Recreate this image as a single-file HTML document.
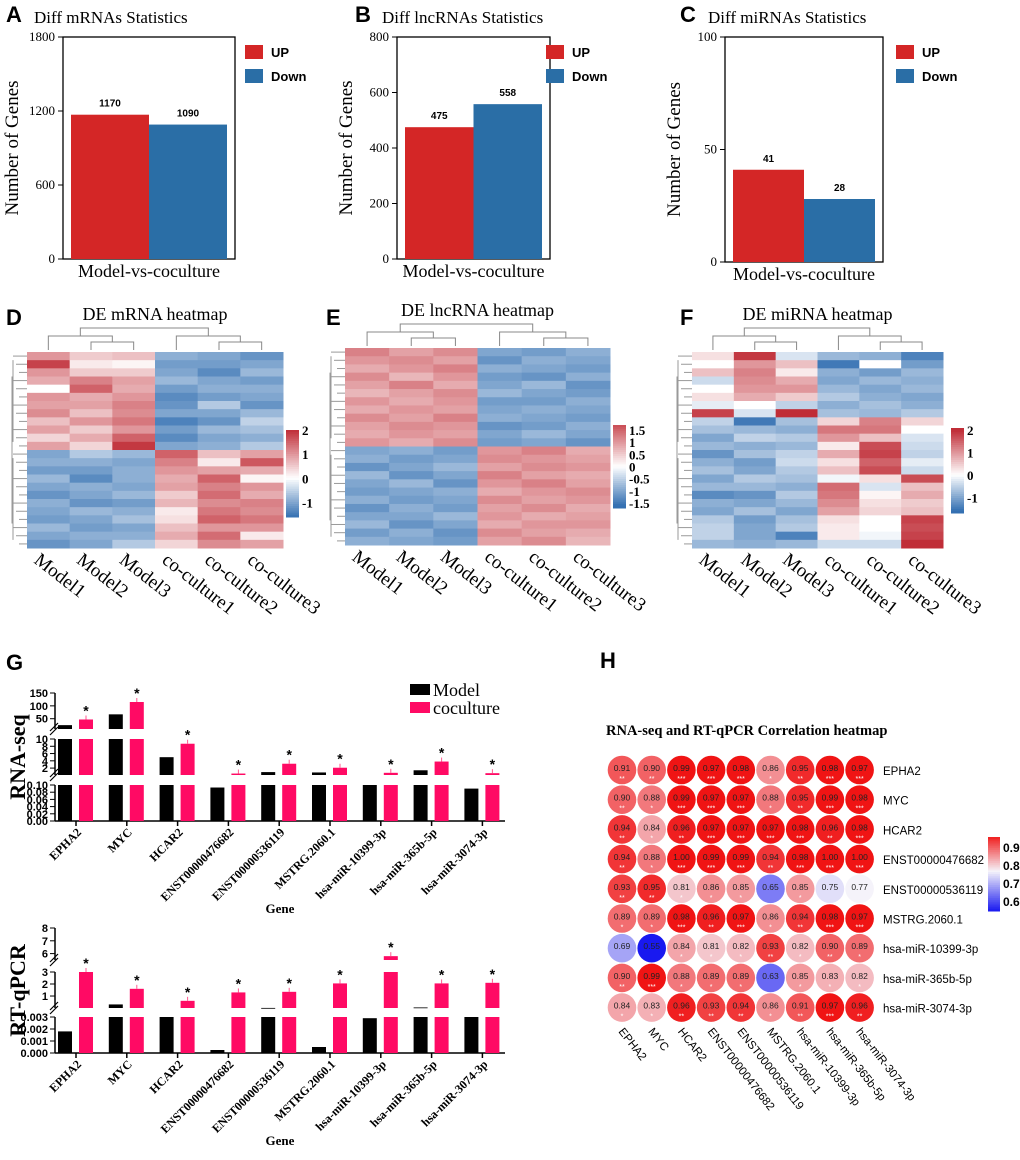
<!DOCTYPE html>
<html><head><meta charset="utf-8"><style>
body{margin:0;background:#fff}
svg{display:block}
.serif{font-family:"Liberation Serif",serif}
.sans{font-family:"Liberation Sans",sans-serif}
</style></head><body>
<svg id="fig" width="1020" height="1160" viewBox="0 0 1020 1160" xmlns="http://www.w3.org/2000/svg"></svg>
<script>
// ---------- data ----------
const barCats = ["UP","Down"];
const mrnaVals = [1170,1090];
const lncVals = [475,558];
const mirVals = [41,28];
const mrnaTicks = [0,600,1200,1800];
const lncTicks = [0,200,400,600,800];
const mirTicks = [0,50,100];

const heatCols = ["Model1","Model2","Model3","co-culture1","co-culture2","co-culture3"];
const heatD = [
 [1.0,1.8,1.0,0.8,0.0,1.0,0.9,1.1,0.6,0.9,0.4,0.9,-1.0,-0.9,-1.1,-0.8,-1.0,-1.2,-0.9,-1.0,-1.1,-0.8,-1.0,-1.2],
 [0.5,0.2,0.5,1.2,1.5,0.8,0.9,0.6,1.0,0.5,0.8,0.4,-0.6,-0.9,-1.1,-1.3,-0.9,-1.0,-1.2,-0.8,-1.0,-1.1,-0.9,-1.0],
 [0.6,0.1,0.5,0.9,0.8,1.0,1.2,1.1,1.3,1.0,1.5,1.9,-0.8,-1.0,-0.9,-0.9,-1.0,-0.8,-1.1,-0.9,-0.7,-1.0,-0.9,-0.6],
 [-0.9,-1.1,-1.0,-0.8,-1.1,-1.3,-1.2,-1.0,-1.4,-1.1,-1.3,-1.0,1.5,1.2,1.0,0.8,0.9,0.5,0.7,0.2,0.3,0.6,0.8,0.4],
 [-1.0,-1.1,-1.3,-1.0,-0.9,-1.1,-0.6,-1.0,-1.2,-0.8,-1.0,-0.9,0.6,0.2,0.9,1.5,1.2,1.4,1.1,1.3,1.5,1.0,1.4,1.1],
 [-1.2,-1.0,-0.8,-1.1,-0.9,-1.0,-1.2,-0.8,-0.5,-0.7,-0.9,-0.6,0.9,1.6,0.8,0.1,1.0,0.8,1.2,1.1,1.3,1.0,0.2,0.9]
];
const heatE = [
 [1.2,1.0,0.8,1.1,0.9,0.7,1.0,0.8,1.1,0.9,0.8,1.0,-1.0,-0.9,-1.2,-0.8,-1.0,-1.1,-0.9,-1.2,-1.0,-0.8,-1.1,-0.9],
 [0.9,1.1,1.0,0.7,1.2,0.9,0.8,1.0,0.9,1.1,1.0,0.8,-0.9,-1.1,-1.0,-1.2,-0.8,-1.0,-1.1,-0.9,-1.0,-1.2,-0.9,-1.0],
 [1.1,0.9,1.2,1.0,0.8,1.1,1.0,0.9,1.2,1.0,0.9,1.1,-1.1,-1.0,-0.8,-1.0,-1.2,-0.9,-1.0,-1.1,-0.8,-1.0,-1.2,-1.1],
 [-1.0,-1.2,-0.9,-1.1,-1.0,-0.8,-1.1,-1.0,-0.9,-1.2,-1.0,-1.1,1.0,1.1,0.9,1.2,1.0,0.8,1.1,0.9,1.0,0.8,1.1,0.9],
 [-1.1,-0.9,-1.0,-1.2,-0.8,-1.0,-1.1,-0.9,-1.0,-1.1,-0.8,-1.0,1.2,1.0,1.1,0.9,1.2,1.0,0.9,1.1,0.8,1.0,0.9,1.1],
 [-0.9,-1.0,-1.1,-0.9,-1.2,-1.1,-0.9,-1.0,-1.1,-0.9,-1.0,-1.2,0.8,0.9,1.0,0.8,0.9,1.1,1.0,0.8,0.9,1.0,0.8,0.7]
];
const heatF = [
 [0.3,0.0,0.6,-0.4,0.0,0.3,-0.2,1.8,-0.5,-0.7,-1.0,-0.8,-1.2,-0.9,-0.7,-1.0,-0.8,-1.3,-0.9,-1.0,-0.6,-0.5,-0.5,-0.8],
 [1.9,1.0,1.2,1.1,1.0,0.8,0.0,-0.3,-1.5,-0.8,-0.5,-0.9,-0.7,-1.1,-1.0,-0.6,-0.8,-1.2,-1.0,-0.7,-1.1,-1.0,-1.0,-0.9],
 [-0.3,0.6,0.2,0.8,1.0,0.5,-0.5,2.0,-0.7,-0.9,-0.6,-0.8,-0.5,-0.4,-0.6,-0.7,-0.9,-0.6,-0.8,-1.0,-0.7,-0.6,-1.4,-0.8],
 [-0.8,-1.5,-0.9,-1.0,-0.8,-0.6,-0.9,-0.7,0.4,1.3,1.0,0.2,0.8,0.3,0.6,-0.1,1.4,1.3,1.1,0.9,0.3,0.2,0.2,-0.4],
 [-0.9,0.0,-1.1,-0.8,-1.0,-0.9,-0.7,-0.8,1.2,1.3,0.6,1.7,1.8,1.5,1.7,0.3,-0.3,0.1,0.3,0.4,0.0,0.0,-0.1,-0.4],
 [-1.4,-1.1,-0.8,-0.9,-0.8,-1.0,-0.9,-0.6,0.4,0.0,-0.3,-0.4,-0.5,-0.2,-0.4,1.7,0.6,0.8,0.5,0.6,1.8,1.7,1.8,2.0]
];

const genes = ["EPHA2","MYC","HCAR2","ENST00000476682","ENST00000536119","MSTRG.2060.1","hsa-miR-10399-3p","hsa-miR-365b-5p","hsa-miR-3074-3p"];
const seqModel = [25,67,5,0.093,0.9,0.8,0.1,1.4,0.09];
const seqCo = [47,115,8.7,0.5,3.2,2.1,0.7,3.8,0.6];
const seqTickTop = [50,100,150];
const seqTickMid = [2,4,6,8,10];
const seqTickLow = ["0.00","0.02","0.04","0.06","0.08","0.10"];
const pcrModel = [0.0018,0.3,0.003,0.00025,0.01,0.0005,0.0029,0.05,0.003];
const pcrCo = [3,1.6,0.6,1.3,1.35,2.05,5.8,2.05,2.1];
const pcrTickTop = [6,7,8];
const pcrTickMid = [1,2,3];
const pcrTickLow = ["0.000","0.001","0.002","0.003"];

const corRows = genes;
const corCols = genes;
const corVals = [
 [.91,.90,.99,.97,.98,.86,.95,.98,.97],
 [.90,.88,.99,.97,.97,.88,.95,.99,.98],
 [.94,.84,.96,.97,.97,.97,.98,.96,.98],
 [.94,.88,1.00,.99,.99,.94,.98,1.00,1.00],
 [.93,.95,.81,.86,.85,.65,.85,.75,.77],
 [.89,.89,.98,.96,.97,.86,.94,.98,.97],
 [.69,.55,.84,.81,.82,.93,.82,.90,.89],
 [.90,.99,.88,.89,.89,.63,.85,.83,.82],
 [.84,.83,.96,.93,.94,.86,.91,.97,.96]
];
const corTicks = [0.6,0.7,0.8,0.9];

// ---------- helpers ----------
const NS="http://www.w3.org/2000/svg";
const svg=document.getElementById('fig');
function mk(tag,attrs,parent,txt){const e=document.createElementNS(NS,tag);for(const k in attrs)e.setAttribute(k,attrs[k]);if(txt!==undefined)e.textContent=txt;(parent||svg).appendChild(e);return e;}
function grp(name){const g=mk('g',{});return g;}
function lerp(a,b,t){return Math.round(a+(b-a)*t);}
function mix(c1,c2,t){return `rgb(${lerp(c1[0],c2[0],t)},${lerp(c1[1],c2[1],t)},${lerp(c1[2],c2[2],t)})`;}
function heatColor(v){const W=[255,255,255];if(v>=0)return mix(W,[192,45,55],Math.min(v/2,1));return mix(W,[52,112,178],Math.min(-v/1.6,1));}
function corColor(v){const W=[245,243,250];if(v>=0.77)return mix(W,[240,20,20],Math.min((v-0.77)/0.2,1));return mix(W,[25,25,240],Math.min((0.77-v)/0.22,1));}

// ---------- panel letters ----------
[["A",6,22],["B",355,22],["C",680,22],["D",6,325],["E",326,325],["F",680,325],["G",6,670],["H",600,668]].forEach(([l,x,y])=>{
 const t=mk('text',{x,y,'font-size':22,'font-weight':'bold',class:'sans'},svg,l);
 
});

// ---------- bar panels ----------
function barPanel(name,title,vals,ticks,box,legX,titleX){
 const g=grp(name);
 const [x0,y0,x1,y1]=box;const max=ticks[ticks.length-1];
 const ys=v=>y1-(v/max)*(y1-y0);
 const tt=mk('text',{x:titleX,y:y0-14,'font-size':17,class:'serif'},g,title);
 
 mk('rect',{x:x0,y:y0,width:x1-x0,height:y1-y0,fill:'none',stroke:'#000','stroke-width':1.3},g);
 ticks.forEach(t=>{const y=ys(t);mk('line',{x1:x0-5,x2:x0,y1:y,y2:y,stroke:'#000'},g);
  const lb=mk('text',{x:x0-8,y:y+4,'text-anchor':'end','font-size':13,class:'serif'},g,t);
  });
 const bw=(x1-x0-16)/2;const cols=['#d42626','#2a6ea6'];
 vals.forEach((v,i)=>{const bx=x0+8+i*bw;const r=mk('rect',{x:bx,y:ys(v),width:bw,height:y1-ys(v),fill:cols[i]},g);
  
  const lb=mk('text',{x:bx+bw/2,y:ys(v)-8,'text-anchor':'middle','font-size':10,'font-weight':'bold',class:'sans'},g,v);
  });
 const yl=mk('text',{transform:`translate(${x0-45},${(y0+y1)/2}) rotate(-90)`,'text-anchor':'middle','font-size':19,class:'serif'},g,'Number of Genes');
 
 const xl=mk('text',{x:(x0+x1)/2,y:y1+18,'text-anchor':'middle','font-size':18,class:'serif'},g,'Model-vs-coculture');
 
 barCats.forEach((c,i)=>{const lg=mk('g',{},g);
  mk('rect',{x:legX,y:y0+8+i*24,width:18,height:14,fill:cols[i]},lg);
  mk('text',{x:legX+26,y:y0+20+i*24,'font-size':13,'font-weight':'bold',class:'sans'},lg,c);});
}
barPanel('chart-a-mrna','Diff mRNAs Statistics',mrnaVals,mrnaTicks,[63,37,235,259],245,34);
barPanel('chart-b-lncrna','Diff lncRNAs Statistics',lncVals,lncTicks,[397,37,550,259],546,382);
barPanel('chart-c-mirna','Diff miRNAs Statistics',mirVals,mirTicks,[725,37,883,262],896,708);

// ---------- heatmaps ----------
function heatPanel(name,title,data,box,cbar,cbTicks,cbRange){
 const g=grp(name);const [x0,y0,x1,y1]=box;
 const cw=(x1-x0)/data.length;const n=data[0].length;const rh=(y1-y0)/n;
 const tt=mk('text',{x:(x0+x1)/2,y:y0-32,'text-anchor':'middle','font-size':18,class:'serif'},g,title);
 
 data.forEach((col,c)=>col.forEach((v,r)=>{const cell=mk('rect',{x:x0+c*cw,y:y0+r*rh,width:cw+0.5,height:rh+0.5,fill:heatColor(v)},g);
  }));
 const cx=i=>x0+cw*(i+0.5);const d=mk('g',{stroke:'#888',fill:'none','stroke-width':1},g);
 
 const b=y0-2;
 mk('path',{d:`M${cx(1)} ${b}V${b-8}H${cx(2)}V${b}M${cx(0)} ${b}V${b-14}H${(cx(1)+cx(2))/2}V${b-8}M${cx(4)} ${b}V${b-8}H${cx(5)}V${b}M${cx(3)} ${b}V${b-14}H${(cx(4)+cx(5))/2}V${b-8}M${(cx(0)+cx(1.5))/2} ${b-14}V${b-22}H${(cx(3)+cx(4.5))/2}V${b-14}`},d);
 const rd=mk('g',{stroke:'#999',fill:'none','stroke-width':1},g);
 
 for(let r=0;r<n;r++){const y=y0+(r+0.5)*rh;mk('line',{x1:x0-14+(r%3)*3,x2:x0,y1:y,y2:y},rd);}
 mk('path',{d:`M${x0-14} ${y0+rh}V${(y0+y1)/2-rh}M${x0-14} ${(y0+y1)/2+rh}V${y1-rh}M${x0-15} ${y0+rh*3}V${y1-rh*3}`},rd);
 heatCols.forEach((c,i)=>{const t=mk('text',{transform:`translate(${x0+cw*i+6},${y1+14}) rotate(38)`,'font-size':19,class:'serif'},g,c);
  });
 const [bx,by0,by1]=cbar;const steps=40;const [lo,hi]=cbRange;
 for(let s=0;s<steps;s++){const v=hi-(hi-lo)*(s+0.5)/steps;mk('rect',{x:bx,y:by0+(by1-by0)*s/steps,width:13,height:(by1-by0)/steps+0.5,fill:heatColor(v)},g);}
 cbTicks.forEach(t=>{const y=by1-(t-lo)/(hi-lo)*(by1-by0);const lb=mk('text',{x:bx+16,y:y+5,'font-size':13,'font-weight':'bold',class:'serif'},g,t);
  });
}
heatPanel('heatmap-d-mrna','DE mRNA heatmap',heatD,[27,352,283,548],[286,430,517],[2,1,0,-1],[-1.6,2]);
heatPanel('heatmap-e-lncrna','DE lncRNA heatmap',heatE,[345,348,610,545],[613,425,508],[1.5,1,0.5,0,-0.5,-1,-1.5],[-1.7,1.7]);
heatPanel('heatmap-f-mirna','DE miRNA heatmap',heatF,[692,352,943,548],[951,428,513],[2,1,0,-1],[-1.7,2.1]);

// ---------- broken-axis bar charts ----------
const gx=i=>76+i*50.8;
function brokenBars(name,ylabel,model,co,segs,tickSets,axY,legend){
 const g=grp(name);
 segs.forEach((s,si)=>{
  mk('line',{x1:55,x2:55,y1:s.y1,y2:s.y0,stroke:'#000','stroke-width':1.5},g);
  tickSets[si].forEach(t=>{const v=parseFloat(t);const y=s.y0-(v-s.lo)/(s.hi-s.lo)*(s.y0-s.y1);
   mk('line',{x1:50,x2:55,y1:y,y2:y,stroke:'#000'},g);
   const lb=mk('text',{x:48,y:y+4,'text-anchor':'end','font-size':11,'font-weight':'bold',class:'sans'},g,t);
   });
  if(si>0){mk('path',{d:`M50 ${s.y0+6}L58 ${s.y0-2}M50 ${s.y0+2}L58 ${s.y0-6}`,stroke:'#000','stroke-width':1.2},g);}
 });
 mk('line',{x1:55,x2:505,y1:axY,y2:axY,stroke:'#000','stroke-width':1.5},g);
 function drawBar(v,x,w,fill,nm){
  segs.forEach(s=>{if(v<=s.lo&&s.lo>0)return;const top=Math.min(v,s.hi);const yT=s.y0-(top-s.lo)/(s.hi-s.lo)*(s.y0-s.y1);
   const r=mk('rect',{x,y:yT,width:w,height:Math.max(s.y0-yT,0.8),fill},g);});
 }
 function topY(v){for(let i=segs.length-1;i>=0;i--){const s=segs[i];if(v>s.lo||i===0){const t=Math.min(v,s.hi);return s.y0-(t-s.lo)/(s.hi-s.lo)*(s.y0-s.y1);}}}
 genes.forEach((gn,i)=>{const c=gx(i);
  drawBar(model[i],c-18,14,'#000','bar-model');
  drawBar(co[i],c+3,14,'#ff0a64','bar-coculture');
  const yt=topY(co[i]);
  mk('line',{x1:c+10,x2:c+10,y1:yt,y2:yt-4,stroke:'#ff5a90'},g);
  const st=mk('text',{x:c+10,y:yt-4,'text-anchor':'middle','font-size':14,'font-weight':'bold',class:'sans'},g,'*');
  
  mk('line',{x1:c,x2:c,y1:axY,y2:axY+5,stroke:'#000','stroke-width':1.5},g);
  const lb=mk('text',{transform:`translate(${c+6},${axY+12}) rotate(-45)`,'text-anchor':'end','font-size':12,'font-weight':'bold',class:'serif'},g,gn);
  
 });
 const yl=mk('text',{transform:`translate(25,${(segs[0].y0+segs[segs.length-1].y1)/2}) rotate(-90)`,'text-anchor':'middle','font-size':22,'font-weight':'bold',class:'serif'},g,ylabel);
 
 const xl=mk('text',{x:280,y:axY+92,'text-anchor':'middle','font-size':13,'font-weight':'bold',class:'serif'},g,'Gene');
 
 if(legend){[['Model','#000'],['coculture','#ff0a64']].forEach(([t,c],i)=>{const lg=mk('g',{},g);
  mk('rect',{x:410,y:684+i*18,width:20,height:11,fill:c},lg);
  mk('text',{x:433,y:696+i*18,'font-size':18,class:'serif'},lg,t);});}
}
brokenBars('chart-g-rnaseq','RNA-seq',seqModel,seqCo,
 [{lo:0,hi:0.1,y0:821,y1:785},{lo:0.1,hi:10,y0:775,y1:739},{lo:10,hi:150,y0:729,y1:693}],
 [seqTickLow,seqTickMid,seqTickTop],821,true);
brokenBars('chart-g-rtqpcr','RT-qPCR',pcrModel,pcrCo,
 [{lo:0,hi:0.003,y0:1053,y1:1017},{lo:0.003,hi:3,y0:1008,y1:972},{lo:5.5,hi:8,y0:960,y1:928}],
 [pcrTickLow,pcrTickMid,pcrTickTop],1053,false);

// ---------- correlation heatmap ----------
(function(){
 const g=grp('chart-h-correlation');
 const t=mk('text',{x:606,y:735,'font-size':14.5,'font-weight':'bold',class:'serif'},g,'RNA-seq and RT-qPCR Correlation heatmap');
 
 const cx=j=>622+j*29.7, cy=i=>770+i*29.7;
 corVals.forEach((row,i)=>row.forEach((v,j)=>{
  const c=mk('circle',{cx:cx(j),cy:cy(i),r:14.3,fill:corColor(v)},g);
  
  const lb=mk('text',{x:cx(j),y:cy(i)+1,'text-anchor':'middle','font-size':8.5,class:'sans',fill:'#222'},g,v.toFixed(2));
  
  const s=v>=0.97?'***':v>=0.9?'**':v>=0.8?'*':'';
  if(s)mk('text',{x:cx(j),y:cy(i)+11,'text-anchor':'middle','font-size':7,class:'sans',fill:'#fff'},g,s);
 }));
 corRows.forEach((r,i)=>{const lb=mk('text',{x:883,y:cy(i)+5,'font-size':11.5,class:'sans'},g,r);
  });
 corCols.forEach((c,j)=>{const lb=mk('text',{transform:`translate(${cx(j)-4},${cy(8)+24}) rotate(52)`,'font-size':11.5,class:'sans'},g,c);
  });
 const bx=988,by0=837,by1=911,lo=0.55,hi=0.96,steps=40;
 for(let s=0;s<steps;s++){const v=hi-(hi-lo)*(s+0.5)/steps;mk('rect',{x:bx,y:by0+(by1-by0)*s/steps,width:12,height:(by1-by0)/steps+0.5,fill:corColor(v)},g);}
 corTicks.forEach(tv=>{const y=by1-(tv-lo)/(hi-lo)*(by1-by0);const lb=mk('text',{x:bx+15,y:y+4,'font-size':12,'font-weight':'bold',class:'sans'},g,tv);
  });
})();
</script>
</body></html>
